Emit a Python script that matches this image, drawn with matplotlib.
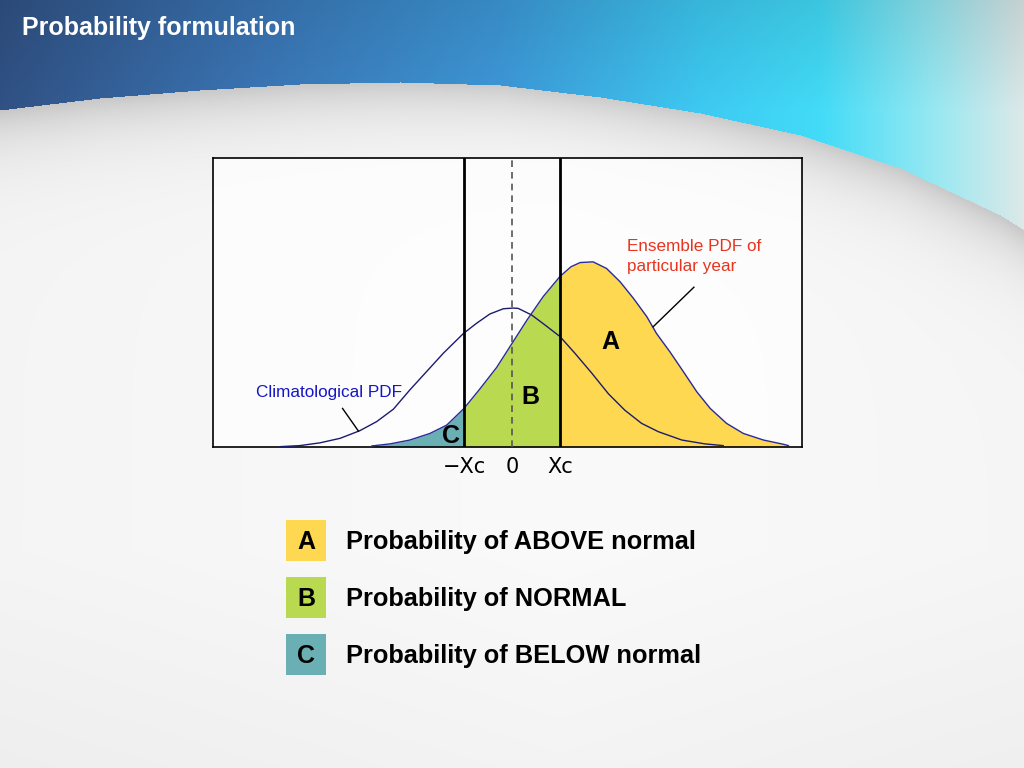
import numpy as np
import matplotlib.pyplot as plt
from matplotlib.patches import Rectangle

# ----- Curves (x in units of Xc, y in density units) -----
clim_x = np.array([-4.83, -4.42, -4.00, -3.58, -3.17, -2.82, -2.47, -2.13, -1.78, -1.43,
                   -1.01, -0.74, -0.46, -0.18, 0.03, 0.13, 0.41, 0.69, 1.00, 1.31,
                   1.66, 2.01, 2.35, 2.70, 3.05, 3.54, 4.02, 4.40])
clim_y = np.array([0.001, 0.004, 0.012, 0.025, 0.047, 0.073, 0.109, 0.164, 0.217, 0.270,
                   0.327, 0.356, 0.383, 0.398, 0.400, 0.399, 0.380, 0.351, 0.318, 0.270,
                   0.213, 0.153, 0.106, 0.068, 0.044, 0.020, 0.009, 0.004])

ens_x = np.array([-2.92, -2.54, -2.13, -1.71, -1.36, -1.0, -0.67, -0.32, 0.0, 0.31,
                  0.65, 1.0, 1.23, 1.42, 1.69, 1.97, 2.25, 2.53, 2.81, 3.01,
                  3.29, 3.57, 3.85, 4.13, 4.47, 4.82, 5.24, 5.65, 5.76])
ens_y = np.array([0.003, 0.009, 0.020, 0.039, 0.063, 0.111, 0.167, 0.229, 0.298, 0.365,
                  0.433, 0.491, 0.519, 0.531, 0.533, 0.514, 0.476, 0.428, 0.375, 0.327,
                  0.274, 0.217, 0.159, 0.111, 0.068, 0.039, 0.020, 0.008, 0.004])

# thresholds and tick labels
tick_pos = [-1, 0, 1]
tick_labels = ['\u2212Xc', '0', 'Xc']

# leader lines for the two curve labels
clim_leader_x = [-3.53, -3.20]
clim_leader_y = [0.111, 0.046]
ens_leader_x = [3.79, 2.94]
ens_leader_y = [0.460, 0.346]

# legend
leg_letters = ['A', 'B', 'C']
leg_texts = ['Probability of ABOVE normal', 'Probability of NORMAL', 'Probability of BELOW normal']
leg_colors = ['#FDD850', '#B9D951', '#6AAFB4']

# ----- slide background -----
H, W = 768, 1024
xx, yy = np.meshgrid(np.arange(W), np.arange(H))
bx = [0, 100, 200, 300, 400, 500, 600, 700, 800, 900, 1000, 1024]
by = [110, 98, 90, 84, 82, 85, 97, 113, 135, 168, 215, 230]
bound = np.interp(np.arange(W), bx, by)
d = yy - bound[None, :]

cx = [0, 250, 500, 700, 820, 930, 1024]
blue = np.stack([np.interp(np.arange(W), cx, c) for c in
                 ([0.19, 0.23, 0.24, 0.24, 0.26, 0.58, 0.87],
                  [0.32, 0.46, 0.60, 0.79, 0.86, 0.91, 0.91],
                  [0.52, 0.71, 0.85, 0.95, 0.97, 0.95, 0.91])], axis=-1)
top = blue[None, :, :] * (0.9 + 0.1 * np.clip(yy / 110.0, 0, 1))[..., None]

grey = 0.80 + 0.18 * (1 - np.exp(-np.clip(d, 0, None) / 35.0))
grey = grey - 0.025 * np.clip((yy - 550) / 218.0, 0, 1) - 0.02 * np.abs(xx - 560) / 560.0
low = np.repeat(grey[..., None], 3, axis=-1)

img = np.where((d < 0)[..., None], top, low)
img = np.clip(img, 0, 1)

fig = plt.figure(figsize=(10.24, 7.68), dpi=100)
bg = fig.add_axes([0, 0, 1, 1], zorder=0)
bg.imshow(img, aspect='auto', extent=[0, W, H, 0], interpolation='bilinear')
bg.set_xlim(0, W)
bg.set_ylim(H, 0)
bg.axis('off')

bg.text(22, 28, 'Probability formulation', color='white', fontsize=18, fontweight='bold',
        family=['Liberation Sans Narrow', 'Liberation Sans', 'DejaVu Sans'], va='center', ha='left')

# legend boxes
for i, (letter, txt, col) in enumerate(zip(leg_letters, leg_texts, leg_colors)):
    yc = 541 + i * 57
    bg.add_patch(Rectangle((286, yc - 21), 40, 41, facecolor=col, edgecolor='none'))
    bg.text(306, yc + 1, letter, fontsize=18, fontweight='bold', family='Liberation Sans',
            ha='center', va='center', color='black')
    bg.text(346, yc + 1, txt, fontsize=18.3, fontweight='bold', family='Liberation Sans',
            ha='left', va='center', color='black')

# ----- main chart -----
ax = fig.add_axes([213 / W, (H - 447) / H, 589 / W, 289 / H], zorder=1)
ax.set_facecolor((1, 1, 1, 0.75))
ax.set_xlim(-6.229, 6.042)
ax.set_ylim(0, 0.832)

ax.fill_between(ens_x, ens_y, where=ens_x <= -1, color=leg_colors[2], lw=0, zorder=1)
ax.fill_between(ens_x, ens_y, where=(ens_x >= -1) & (ens_x <= 1), color=leg_colors[1], lw=0, zorder=1)
ax.fill_between(ens_x, ens_y, where=ens_x >= 1, color=leg_colors[0], lw=0, zorder=1)

ax.plot(clim_x, clim_y, color='#1C1C6E', lw=1.0, zorder=3)
ax.plot(ens_x, ens_y, color='#2A2A9A', lw=1.0, zorder=3)

ax.axvline(-1, color='black', lw=2, zorder=4)
ax.axvline(1, color='black', lw=2, zorder=4)
ax.axvline(0, color='#555555', lw=1.2, ls=(0, (4, 3)), zorder=4)

ax.plot(clim_leader_x, clim_leader_y, color='black', lw=1, zorder=3)
ax.plot(ens_leader_x, ens_leader_y, color='black', lw=1, zorder=3)

ax.text(-5.33, 0.158, 'Climatological PDF', color='#1515C8', fontsize=12.3,
        family='Liberation Sans', ha='left', va='center')
ax.text(2.40, 0.548, 'Ensemble PDF of\nparticular year', color='#E8341F', fontsize=12.3,
        family='Liberation Sans', ha='left', va='center', linespacing=1.45)

ax.text(2.06, 0.302, 'A', fontsize=18, fontweight='bold', family='Liberation Sans', ha='center', va='center', zorder=5)
ax.text(0.375, 0.144, 'B', fontsize=18, fontweight='bold', family='Liberation Sans', ha='center', va='center', zorder=5)
ax.text(-1.27, 0.032, 'C', fontsize=18, fontweight='bold', family='Liberation Sans', ha='center', va='center', zorder=5)

ax.set_xticks(tick_pos)
ax.set_xticklabels(tick_labels, fontsize=15, family='DejaVu Sans')
ax.tick_params(axis='x', length=0, pad=7)
ax.set_yticks([])
for s in ax.spines.values():
    s.set_linewidth(1.2)
    s.set_color('black')

fig.savefig('out.png', dpi=100)
